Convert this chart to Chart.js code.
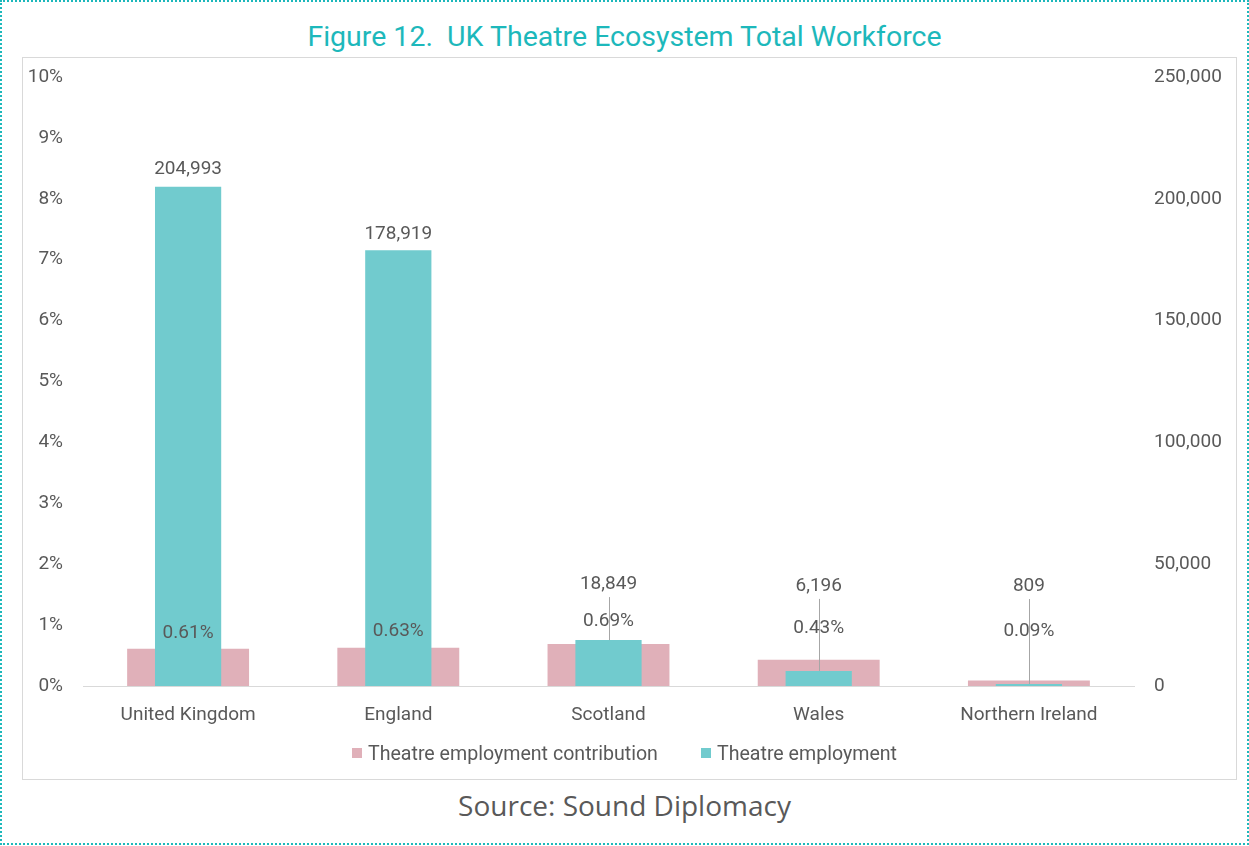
<!DOCTYPE html>
<html>
<head>
<meta charset="utf-8">
<title>UK Theatre Ecosystem Total Workforce</title>
<script src="https://cdn.jsdelivr.net/npm/chart.js@4.4.1/dist/chart.umd.min.js"></script>
<style>
	body { margin: 0; background: #fff; }
	#frame {
		position: absolute; left: 0; top: 0; width: 1249px; height: 845px;
		box-sizing: border-box; border: 2px dotted #1db8bb;
	}
	#title {
		position: absolute; left: 0; top: 20px; width: 1249px; text-align: center;
		font: 28.5px Roboto, sans-serif; color: #1db8bb; white-space: pre;
	}
	#box {
		position: absolute; left: 22px; top: 57px; width: 1215px; height: 723px;
		box-sizing: border-box; border: 1px solid #d9d9d9;
	}
	#box canvas { position: absolute; left: 0; top: 0; }
	#legend {
		position: absolute; left: 0; top: 742px; width: 1249px; height: 22px;
		display: flex; justify-content: center; align-items: center; gap: 43px;
		font: 19.6px Roboto, sans-serif; color: #595959;
	}
	#legend .item { display: flex; align-items: center; }
	#legend .swatch { width: 10px; height: 10px; margin-right: 6px; }
	#source {
		position: absolute; left: 0; top: 786px; width: 1249px; text-align: center;
		font: 28px "Open Sans", sans-serif; color: #595959;
	}
</style>
</head>
<body>
<div id="frame"></div>
<div id="title">Figure 12.  UK Theatre Ecosystem Total Workforce</div>
<div id="box"><canvas id="workforce" width="1213" height="721"></canvas></div>
<div id="legend"></div>
<div id="source">Source: Sound Diplomacy</div>
<script>
// regions and their values
const regions = ['United Kingdom', 'England', 'Scotland', 'Wales', 'Northern Ireland'];
const contribution = [0.61, 0.63, 0.69, 0.43, 0.09]; // % of total employment
const employment = [204993, 178919, 18849, 6196, 809];

const pctTicks = [0, 1, 2, 3, 4, 5, 6, 7, 8, 9, 10];
const countTicks = [0, 50000, 100000, 150000, 200000, 250000];

// how far each label sits above its bar (px); small bars get a leader line
const employmentLift = [17, 16, 56, 85, 98];
const contributionLift = [16, 16, 23, 32, 49];

const PINK = '#e0b0b9';
const TEAL = '#71cbce';
const TEXT = '#595959';
const FONT = 'Roboto, sans-serif';

const fmt = (n) => n.toLocaleString('en-US');

// value labels drawn over the bars, with leader lines where they were lifted
const valueLabels = {
	id: 'valueLabels',
	afterDatasetsDraw(chart) {
		const ctx = chart.ctx;
		const pinkBars = chart.getDatasetMeta(0).data;
		const tealBars = chart.getDatasetMeta(1).data;
		ctx.save();
		ctx.font = `19px ${FONT}`;
		ctx.fillStyle = TEXT;
		ctx.textAlign = 'center';
		ctx.textBaseline = 'middle';
		regions.forEach((r, i) => {
			const tb = tealBars[i];
			const pb = pinkBars[i];
			const ey = tb.y - employmentLift[i];
			if (employmentLift[i] > 30) {
				ctx.beginPath();
				ctx.strokeStyle = '#a6a6a6';
				ctx.lineWidth = 1;
				ctx.moveTo(Math.round(tb.x) + 0.5, ey + 13);
				ctx.lineTo(Math.round(tb.x) + 0.5, tb.y);
				ctx.stroke();
			}
			ctx.fillText(fmt(employment[i]), tb.x, ey);
			ctx.fillText(contribution[i].toFixed(2) + '%', pb.x, pb.y - contributionLift[i]);
		});
		ctx.restore();
	},
};

// value axes: fixed width, and no extra room above/below for the tick padding
const fitValueAxis = (width) => (s) => {
	s.width = width;
	s.paddingTop = 10;
	s.paddingBottom = 10;
};

Chart.defaults.font.family = FONT;
Chart.defaults.font.size = 19;
Chart.defaults.color = TEXT;

const chart = new Chart(document.getElementById('workforce'), {
	type: 'bar',
	data: {
		labels: regions,
		datasets: [
			{
				label: 'Theatre employment contribution',
				data: contribution,
				backgroundColor: PINK,
				yAxisID: 'pct',
				grouped: false,
				barPercentage: 0.58,
				categoryPercentage: 1,
				order: 1,
			},
			{
				label: 'Theatre employment',
				data: employment,
				backgroundColor: TEAL,
				yAxisID: 'count',
				grouped: false,
				barPercentage: 0.315,
				categoryPercentage: 1,
				order: 0,
			},
		],
	},
	options: {
		responsive: false,
		animation: false,
		layout: { padding: { top: 19, left: 0, right: 0, bottom: 0 } },
		scales: {
			x: {
				grid: { display: false, drawTicks: false },
				border: { display: true, color: '#d9d9d9' },
				ticks: { padding: 18 },
				afterFit: (s) => { s.height = 93; },
			},
			pct: {
				position: 'left',
				min: 0,
				max: 10,
				afterBuildTicks: (s) => { s.ticks = pctTicks.map((v) => ({ value: v })); },
				ticks: { callback: (v) => v + '%', padding: 20 },
				grid: { display: false, drawTicks: false },
				border: { display: false },
				afterFit: fitValueAxis(60),
			},
			count: {
				position: 'right',
				min: 0,
				max: 250000,
				afterBuildTicks: (s) => { s.ticks = countTicks.map((v) => ({ value: v })); },
				ticks: { callback: (v) => fmt(v), padding: 20 },
				grid: { display: false, drawTicks: false },
				border: { display: false },
				afterFit: fitValueAxis(102),
			},
		},
		plugins: {
			legend: { display: false },
			tooltip: { enabled: false },
		},
	},
	plugins: [valueLabels],
});

// legend row under the chart, built from the datasets
document.getElementById('legend').innerHTML = chart.data.datasets
	.map(
		(ds) => `<div class="item"><span class="swatch" style="background:${ds.backgroundColor}"></span>${ds.label}</div>`
	)
	.join('');
</script>
</body>
</html>
